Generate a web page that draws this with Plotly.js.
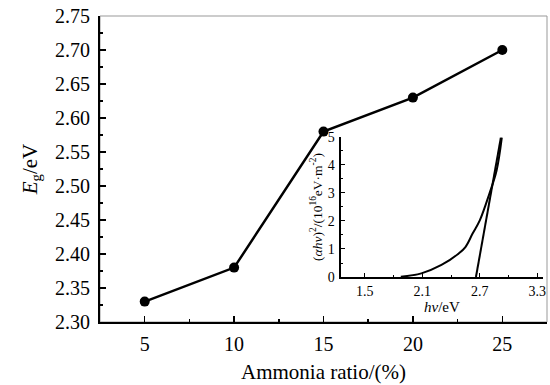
<!DOCTYPE html>
<html><head><meta charset="utf-8">
<script src="https://cdn.plot.ly/plotly-3.0.1.min.js"></script>
<style>body{margin:0;background:#fff}#c{width:550px;height:385px}</style>
</head><body><div id="c"></div>
<script>
const ammonia = [5, 10, 15, 20, 25];
const eg = [2.33, 2.38, 2.58, 2.63, 2.70];
const hv = [1.875, 2.09, 2.30, 2.48, 2.55, 2.625, 2.70, 2.80, 2.875, 2.93];
const ahv2 = [0.01, 0.13, 0.43, 0.84, 1.07, 1.55, 2.02, 2.97, 3.79, 4.97];
const tangentX = [2.66, 2.92];
const tangentY = [0, 4.97];

const F = 'Liberation Serif, Times New Roman, serif';
const traces = [
  {x: ammonia, y: eg, mode: 'lines+markers', line: {color: '#000', width: 2.5},
   marker: {color: '#000', size: 10}, xaxis: 'x', yaxis: 'y', hoverinfo: 'skip'},
  {x: hv, y: ahv2, mode: 'lines', line: {color: '#000', width: 2, shape: 'spline', smoothing: 1},
   xaxis: 'x2', yaxis: 'y2', hoverinfo: 'skip'},
  {x: tangentX, y: tangentY, mode: 'lines', line: {color: '#000', width: 2},
   xaxis: 'x2', yaxis: 'y2', hoverinfo: 'skip'}
];
const layout = {
  width: 550, height: 385, showlegend: false,
  paper_bgcolor: '#fff', plot_bgcolor: 'rgba(0,0,0,0)',
  margin: {l: 100, r: 3, t: 16, b: 63},
  font: {family: F, color: '#000'},
  xaxis: {domain: [0, 1], range: [2.5, 27.5], tickvals: [5, 10, 15, 20, 25],
    ticks: 'inside', ticklen: 6, tickwidth: 1.5, tickcolor: '#000',
    minor: {dtick: 2.5, tick0: 0, ticks: 'inside', ticklen: 3, tickwidth: 1.5, tickcolor: '#000'},
    showline: true, linecolor: '#000', linewidth: 2, showgrid: false, zeroline: false,
    tickfont: {size: 20, family: F}, ticklabelstandoff: 3,
    title: {text: 'Ammonia ratio/(%)', font: {size: 21, family: F}, standoff: 10}},
  yaxis: {domain: [0, 1], range: [2.30, 2.75], dtick: 0.05, tickformat: '.2f',
    ticks: 'inside', ticklen: 6, tickwidth: 1.5, tickcolor: '#000',
    minor: {dtick: 0.025, ticks: 'inside', ticklen: 3, tickwidth: 1.5, tickcolor: '#000'},
    showline: true, linecolor: '#000', linewidth: 2, showgrid: false, zeroline: false,
    tickfont: {size: 20, family: F}, ticklabelstandoff: 4,
    title: {text: '<i>E</i><sub>g</sub>/eV', font: {size: 21, family: F}, standoff: 12}},
  xaxis2: {domain: [0.539, 0.991], range: [1.25, 3.36], anchor: 'y2',
    tickvals: [1.5, 2.1, 2.7, 3.3], ticktext: ['1.5', '2.1', '2.7', '3.3'],
    ticks: 'inside', ticklen: 4, tickwidth: 1, tickcolor: '#000',
    minor: {dtick: 0.3, tick0: 1.5, ticks: 'inside', ticklen: 2, tickwidth: 1, tickcolor: '#000'},
    showline: true, linecolor: '#000', linewidth: 1.5, showgrid: false, zeroline: false,
    tickfont: {size: 14, family: F}, ticklabelstandoff: 1,
    title: {text: '<i>hν</i>/eV', font: {size: 15, family: F}, standoff: 1}},
  yaxis2: {domain: [0.147, 0.605], range: [0, 5], anchor: 'x2', dtick: 1,
    ticks: 'inside', ticklen: 4, tickwidth: 1, tickcolor: '#000',
    minor: {dtick: 0.5, ticks: 'inside', ticklen: 2, tickwidth: 1, tickcolor: '#000'},
    showline: true, linecolor: '#000', linewidth: 1.5, showgrid: false, zeroline: false,
    tickfont: {size: 14, family: F}, ticklabelstandoff: 2,
    title: {text: '(<i>αhν</i>)<sup>2</sup>/(10<sup>16</sup>eV·m<sup>-2</sup>)', font: {size: 13.5, family: F}, standoff: 2}},
  shapes: [{type: 'rect', xref: 'paper', yref: 'paper', x0: 0, x1: 1, y0: 0, y1: 1,
    line: {color: '#999', width: 1}, layer: 'below'}]
};
Plotly.newPlot('c', traces, layout, {staticPlot: true});
</script></body></html>
